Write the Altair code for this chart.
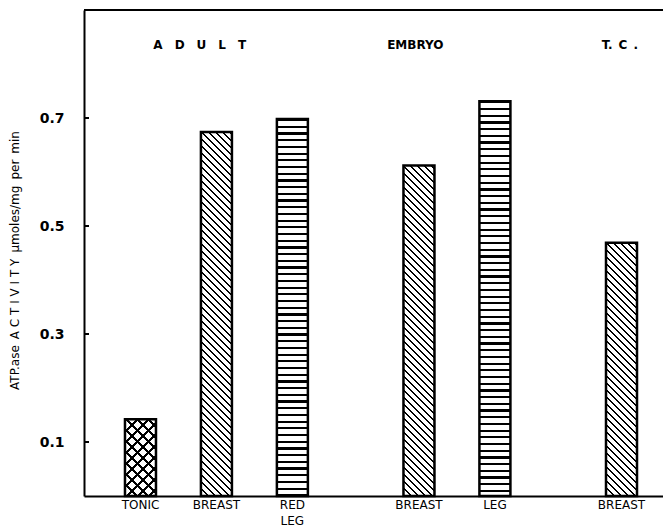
import altair as alt
import pandas as pd

# ---- data ----
groups = ["ADULT", "ADULT", "ADULT", "EMBRYO", "EMBRYO", "T.C."]
muscles = ["TONIC", "BREAST", "RED\nLEG", "BREAST", "LEG", "BREAST"]
activity = [0.142, 0.674, 0.698, 0.612, 0.731, 0.469]
patterns = ["cross", "diag", "horiz", "diag", "horiz", "diag"]
group_names = ["ADULT", "EMBRYO", "T.C."]
group_texts = ["A\u2003D\u2003U\u2003L\u2003T", "EMBRYO", "T.\u2002C\u2002."]
group_anchor = [1, 3, 5]          # bar under which each group label sits
group_dx = [-4, 9, 11]
y_ticks = [0.1, 0.3, 0.5, 0.7]
y_title = "ATP.ase\u2002A C T I V I T Y\u2002\u03bcmoles/mg\u2002per\u2002min"

# ---- layout / style ----
W, H = 579, 486
YMAX = 0.9
BAR_W = 31
gaps = [2, 2, 4, 2, 4]

keys = [f"b{i}" for i in range(len(muscles))]
domain = ["pad_l"]
for i, k in enumerate(keys):
    domain.append(k)
    if i < len(gaps):
        domain += [f"g{i}_{j}" for j in range(gaps[i])]
domain.append("pad_r")

df = pd.DataFrame({"key": keys, "group": groups, "muscle": muscles,
                   "activity": activity, "pattern": patterns})
gdf = pd.DataFrame({"key": [keys[i] for i in group_anchor], "label": group_texts,
                    "dx": group_dx})
tdf = pd.DataFrame({"activity": y_ticks})

xscale = alt.Scale(domain=domain, paddingInner=0, paddingOuter=0.435, align=0.84)
yscale = alt.Scale(domain=[0, YMAX], nice=False, zero=True)
Xax = alt.Axis(labels=False, ticks=False, title=None, grid=False,
               domainColor="black", domainWidth=2)
X = alt.X("key:N", scale=xscale, sort=domain, axis=Xax)


def stripe_stops(L, period, lw, ink="black", gap="white"):
    stops = [(0.0, gap)]
    k = 0
    while k * period < L + period:
        a = k * period
        b = a + lw
        for off, col in ((a, gap), (a, ink), (b, ink), (b, gap)):
            o = min(max(off / L, 0.0), 1.0)
            stops.append((o, col))
        k += 1
    return [alt.GradientStop(color=c, offset=round(o, 6)) for o, c in stops]


def grad(kind, v, period, lw, gap="white"):
    w = BAR_W
    h = v / YMAX * H
    if kind == "horiz":
        return alt.LinearGradient(gradient="linear", stops=stripe_stops(h, period, lw, gap=gap),
                                  x1=0, y1=0, x2=0, y2=1)
    L = w + h
    c = L / (w * w + h * h)
    if kind == "back":   # lines like "\"
        return alt.LinearGradient(gradient="linear", stops=stripe_stops(L, period, lw, gap=gap),
                                  x1=0, y1=1, x2=c * w, y2=1 - c * h)
    # "/" lines
    return alt.LinearGradient(gradient="linear", stops=stripe_stops(L, period, lw, gap=gap),
                              x1=0, y1=0, x2=c * w, y2=c * h)


Yax = alt.Axis(values=y_ticks, format=".1f", ticks=False, grid=False,
               domainColor="black", domainWidth=2,
               labelFont="DejaVu Sans", labelFontWeight="bold", labelFontSize=14,
               labelColor="black", labelPadding=20,
               title=y_title, titleFont="DejaVu Sans", titleFontSize=12,
               titleFontWeight="normal", titleColor="black",
               titleAngle=270, titleX=-70, titleY=250,
               titleAlign="center", titleBaseline="middle")
Y = alt.Y("activity:Q", scale=yscale, axis=Yax)

layers = []
for i, k in enumerate(keys):
    v = activity[i]
    pat = patterns[i]
    base = alt.Chart(df).transform_filter(alt.datum.key == k)
    if pat == "cross":
        layers.append(base.mark_bar(width=BAR_W, fill=grad("back", v, 11, 3)).encode(x=X, y=Y))
        layers.append(base.mark_bar(width=BAR_W, fill=grad("fwd", v, 11, 3, gap="rgba(255,255,255,0)"),
                                    stroke="black", strokeWidth=2.5).encode(x=X, y=Y))
    elif pat == "diag":
        layers.append(base.mark_bar(width=BAR_W, fill=grad("back", v, 7, 2),
                                    stroke="black", strokeWidth=2.5).encode(x=X, y=Y))
    else:
        layers.append(base.mark_bar(width=BAR_W, fill=grad("horiz", v, 6.7, 2.2),
                                    stroke="black", strokeWidth=2.5).encode(x=X, y=Y))

xlabels = alt.Chart(df).mark_text(lineBreak="\n", baseline="top", align="center",
                                  font="DejaVu Sans", fontSize=12, lineHeight=16,
                                  color="black").encode(
    x=X, y=alt.value(H + 4), text="muscle:N")

glabels = alt.Chart(gdf).mark_text(baseline="middle", align="center", font="DejaVu Sans",
                                   fontSize=12, fontWeight="bold", color="black").encode(
    x=X, y=alt.value(35), text="label:N", xOffset=alt.XOffset("dx:Q", scale=None))

inner_ticks = alt.Chart(tdf).mark_rule(color="black", strokeWidth=2).encode(
    y=Y, x=alt.value(0), x2=alt.value(5))

top_line = alt.Chart(tdf).mark_rule(color="black", strokeWidth=2).encode(
    x=alt.value(0), x2=alt.value(W), y=alt.value(0))

chart = alt.layer(*layers, xlabels, glabels, inner_ticks, top_line).properties(
    width=W, height=H,
    autosize=alt.AutoSizeParams(type="none"),
    padding={"left": 76, "top": 2, "right": 0, "bottom": 32},
    background="white",
).configure_view(stroke=None)

chart.save("out.html", embed_options={"renderer": "svg", "actions": False})
